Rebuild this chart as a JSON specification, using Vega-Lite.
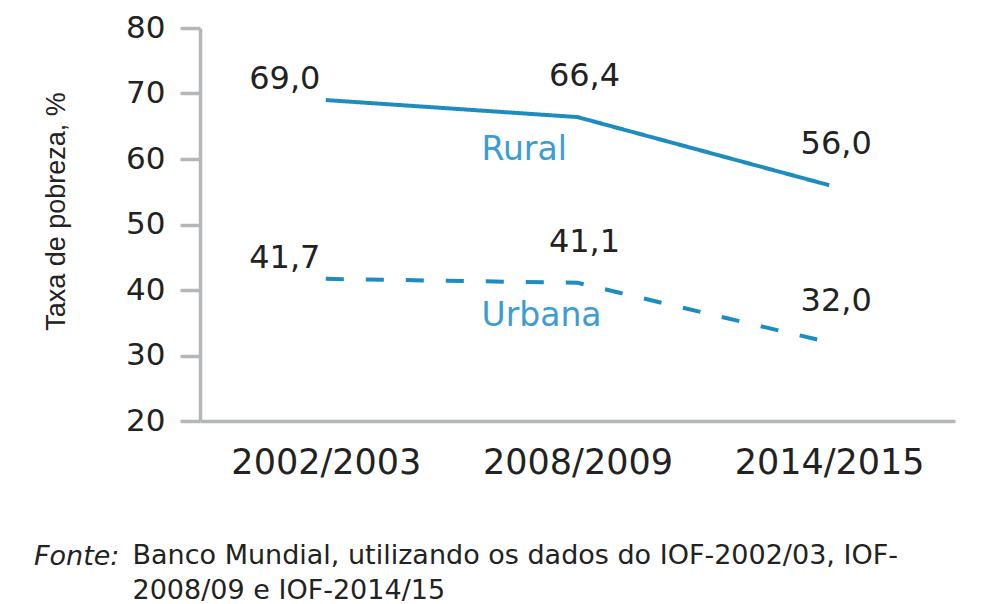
{
  "$schema": "https://vega.github.io/schema/vega-lite/v6.json",
  "width": 755,
  "height": 393,
  "autosize": {"type": "none"},
  "padding": {"left": 200, "top": 28, "right": 29, "bottom": 183},
  "background": "#ffffff",
  "config": {"view": {"stroke": null}},
  "data": {
    "values": [
      {"period": "2002/2003", "area": "Rural", "value": 69.0},
      {"period": "2008/2009", "area": "Rural", "value": 66.4},
      {"period": "2014/2015", "area": "Rural", "value": 56.0},
      {"period": "2002/2003", "area": "Urbana", "value": 41.7},
      {"period": "2008/2009", "area": "Urbana", "value": 41.1},
      {"period": "2014/2015", "area": "Urbana", "value": 32.0}
    ]
  },
  "title": {
    "text": "Fonte:",
    "orient": "bottom",
    "anchor": "start",
    "frame": "bounds",
    "font": "DejaVu Sans",
    "fontSize": 27,
    "fontStyle": "italic",
    "fontWeight": "normal",
    "color": "#222222",
    "baseline": "alphabetic",
    "offset": -38,
    "dx": -8
  },
  "encoding": {
    "x": {
      "field": "period",
      "type": "ordinal",
      "scale": {"type": "point", "padding": 0.5},
      "axis": {
        "title": ["Banco Mundial, utilizando os dados do IOF-2002/03, IOF-", "2008/09 e IOF-2014/15"],
        "labelAngle": 0,
        "ticks": false,
        "tickSize": 0,
        "grid": false,
        "labelPadding": 24,
        "labelOverlap": false,
        "labelLimit": 0,
        "labelFont": "DejaVu Sans",
        "labelFontSize": 35,
        "labelColor": "#222222",
        "domainColor": "#b4b7b9",
        "domainWidth": 3.5,
        "titleX": -68,
        "titleY": 142,
        "titleAlign": "left",
        "titleBaseline": "alphabetic",
        "titleFont": "DejaVu Sans",
        "titleFontSize": 27,
        "titleFontWeight": "normal",
        "titleColor": "#222222",
        "titleLineHeight": 35,
        "titleLimit": 0
      }
    },
    "y": {
      "field": "value",
      "type": "quantitative",
      "scale": {"domain": [20, 80], "nice": false, "zero": false},
      "axis": {
        "title": "Taxa de pobreza, %",
        "values": [20, 30, 40, 50, 60, 70, 80],
        "grid": false,
        "tickSize": 20,
        "tickWidth": 3.5,
        "tickColor": "#b4b7b9",
        "domainColor": "#b4b7b9",
        "domainWidth": 3.5,
        "labelPadding": 15,
        "labelFont": "DejaVu Sans",
        "labelFontSize": 31,
        "labelColor": "#222222",
        "titleFont": "Liberation Sans",
        "titleFontSize": 27,
        "titleFontWeight": "normal",
        "titleColor": "#222222",
        "titleX": -144,
        "titleY": 183,
        "titleAngle": -90,
        "titleAlign": "center",
        "titleBaseline": "middle",
        "titleLimit": 0
      }
    }
  },
  "layer": [
    {
      "mark": {"type": "line", "color": "#1d8cc0", "strokeWidth": 4},
      "encoding": {
        "strokeDash": {
          "field": "area",
          "type": "nominal",
          "scale": {"domain": ["Rural", "Urbana"], "range": [[1, 0], [18, 22]]},
          "legend": null
        }
      }
    },
    {
      "transform": [
        {"filter": "datum.period == '2002/2003'"},
        {"calculate": "replace(format(datum.value, '.1f'), '.', ',')", "as": "label"}
      ],
      "mark": {"type": "text", "font": "DejaVu Sans", "fontSize": 32, "color": "#222222", "baseline": "middle", "dx": -41, "dy": -21},
      "encoding": {"text": {"field": "label", "type": "nominal"}}
    },
    {
      "transform": [
        {"filter": "datum.period != '2002/2003'"},
        {"calculate": "replace(format(datum.value, '.1f'), '.', ',')", "as": "label"}
      ],
      "mark": {"type": "text", "font": "DejaVu Sans", "fontSize": 32, "color": "#222222", "baseline": "middle", "dx": 7, "dy": -41},
      "encoding": {"text": {"field": "label", "type": "nominal"}}
    },
    {
      "transform": [{"filter": "datum.period == '2008/2009'"}],
      "mark": {"type": "text", "font": "DejaVu Sans", "fontSize": 33, "color": "#3b9dd2", "align": "left", "baseline": "middle", "dx": -96, "dy": 33},
      "encoding": {"text": {"field": "area", "type": "nominal"}}
    }
  ]
}
